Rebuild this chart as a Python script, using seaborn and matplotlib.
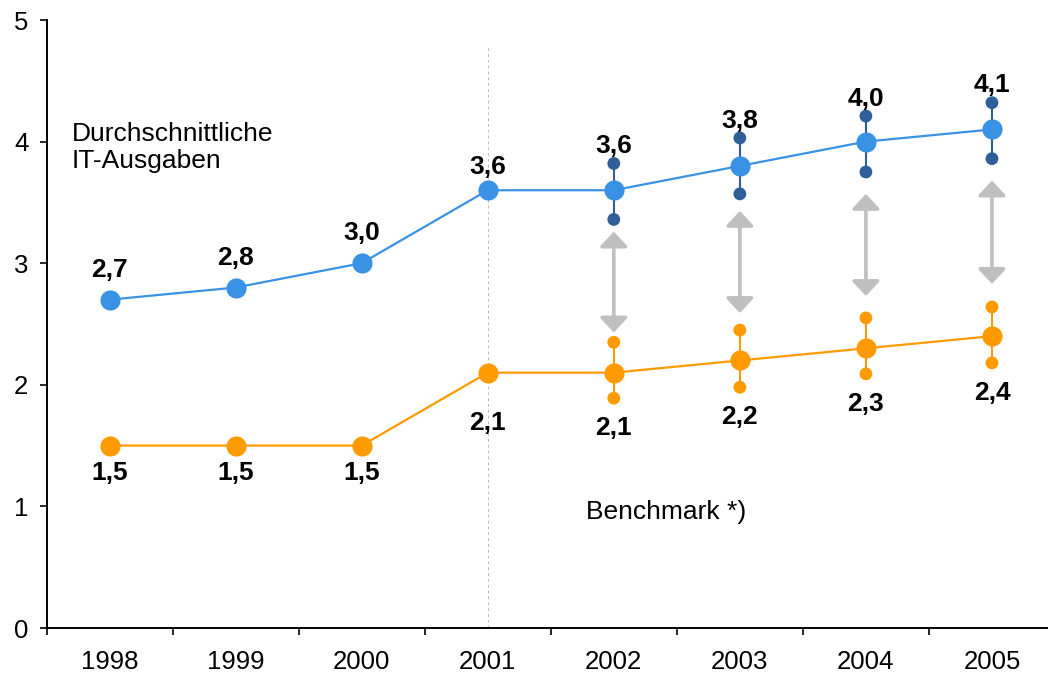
import matplotlib
matplotlib.use("Agg")
import matplotlib.pyplot as plt
import seaborn as sns
import pandas as pd
import numpy as np

# ---- data ----
years = ["1998", "1999", "2000", "2001", "2002", "2003", "2004", "2005"]
it_avg = [2.7, 2.8, 3.0, 3.6, 3.6, 3.8, 4.0, 4.1]
benchmark = [1.5, 1.5, 1.5, 2.1, 2.1, 2.2, 2.3, 2.4]
range_years = ["2002", "2003", "2004", "2005"]
it_high = [3.82, 4.03, 4.21, 4.32]
it_low = [3.36, 3.57, 3.75, 3.86]
bm_high = [2.35, 2.45, 2.55, 2.64]
bm_low = [1.89, 1.98, 2.09, 2.18]
arrow_top = [3.26, 3.43, 3.57, 3.68]
arrow_bottom = [2.43, 2.59, 2.73, 2.83]
label_it = "Durchschnittliche\nIT-Ausgaben"
label_bm = "Benchmark *)"

BLUE = "#3A92E4"
DARKBLUE = "#2F5F98"
ORANGE = "#FF9B00"
GRAY = "#BFBFBF"

sns.set_theme(style="white")
plt.rcParams["font.family"] = ["Liberation Sans", "DejaVu Sans"]

fig = plt.figure(figsize=(10.48, 6.76), dpi=100)
ax = fig.add_axes([46.5 / 1048, 1 - 628 / 676, (1055 - 46.5) / 1048, (628 - 20) / 676])

idx = {y: i for i, y in enumerate(years)}
df = pd.DataFrame({
    "x": list(range(len(years))) * 2,
    "value": it_avg + benchmark,
    "series": ["it"] * len(years) + ["bm"] * len(years),
})

# dashed separator at 2001
ax.plot([idx["2001"], idx["2001"]], [0, 4.79], ls=(0, (3, 3)), lw=0.7, color="#BBBBBB", zorder=1)

# range bars
rx = [idx[y] for y in range_years]
ax.vlines(rx, it_low, it_high, color=DARKBLUE, lw=1.5, zorder=2)
ax.vlines(rx, bm_low, bm_high, color=ORANGE, lw=1.5, zorder=2)
dots = pd.DataFrame({
    "x": rx * 4,
    "value": it_high + it_low + bm_high + bm_low,
    "series": ["it"] * 8 + ["bm"] * 8,
})
sns.scatterplot(data=dots, x="x", y="value", hue="series",
                palette={"it": DARKBLUE, "bm": ORANGE}, s=85, linewidth=0,
                legend=False, ax=ax, zorder=3)

# main lines
sns.lineplot(data=df, x="x", y="value", hue="series",
             palette={"it": BLUE, "bm": ORANGE}, marker="o", markersize=14.5,
             markeredgewidth=0, lw=1.6, legend=False, ax=ax, zorder=4)

# arrows
for x, t, b in zip(rx, arrow_top, arrow_bottom):
    ax.annotate("", xy=(x, t), xytext=(x, b),
                arrowprops=dict(arrowstyle="<|-|>,head_length=0.45,head_width=0.42",
                                mutation_scale=20, lw=2.6, color=GRAY,
                                shrinkA=0, shrinkB=0), zorder=2)

# value labels
hi = dict(zip(range_years, it_high))
lo = dict(zip(range_years, bm_low))
for i, y in enumerate(years):
    v = it_avg[i]
    if y in hi:
        base, off = hi[y], 12.5
    elif y == "2001":
        base, off = v, 17
    else:
        base, off = v, 21.5
    ax.annotate(f"{v:.1f}".replace(".", ","), xy=(i, base), xytext=(0, off),
                textcoords="offset points", ha="center", va="center",
                fontsize=19, fontweight="bold", color="black", zorder=5)
    v2 = benchmark[i]
    if y in lo:
        base2, off2 = lo[y], -21.5
    elif y == "2001":
        base2, off2 = v2, -36
    else:
        base2, off2 = v2, -19.5
    ax.annotate(f"{v2:.1f}".replace(".", ","), xy=(i, base2), xytext=(0, off2),
                textcoords="offset points", ha="center", va="center",
                fontsize=19, fontweight="bold", color="black", zorder=5)

# series labels
ax.text(-0.3, 3.95, label_it, ha="left", va="center", fontsize=19,
        linespacing=1.17, color="black")
ax.text(3.78, 0.95, label_bm, ha="left", va="center", fontsize=19, color="black")

# axes styling
ax.set_xlim(-0.5, len(years) - 0.5)
ax.set_ylim(0, 5)
ax.set_yticks([0, 1, 2, 3, 4, 5])
ax.set_yticklabels(["0", "1", "2", "3", "4", "5"])
ax.set_xticks(np.arange(-0.5, len(years), 1.0))
ax.set_xticklabels([])
ax.set_xticks(range(len(years)), minor=True)
ax.set_xticklabels(years, minor=True)
ax.tick_params(axis="x", which="major", direction="out", length=5, width=1.2,
               color="black", bottom=True)
ax.tick_params(axis="x", which="minor", length=0, pad=16, labelsize=18.5,
               labelcolor="black", bottom=True)
ax.tick_params(axis="y", direction="out", length=5, width=1.2, color="black",
               left=True, pad=8, labelsize=18.5, labelcolor="black")
ax.set_xlabel("")
ax.set_ylabel("")
for s in ["top", "right"]:
    ax.spines[s].set_visible(False)
for s in ["left", "bottom"]:
    ax.spines[s].set_color("black")
    ax.spines[s].set_linewidth(1.4)
ax.grid(False)
ax.set_facecolor("white")

fig.savefig("out.png", dpi=100, facecolor="white")
